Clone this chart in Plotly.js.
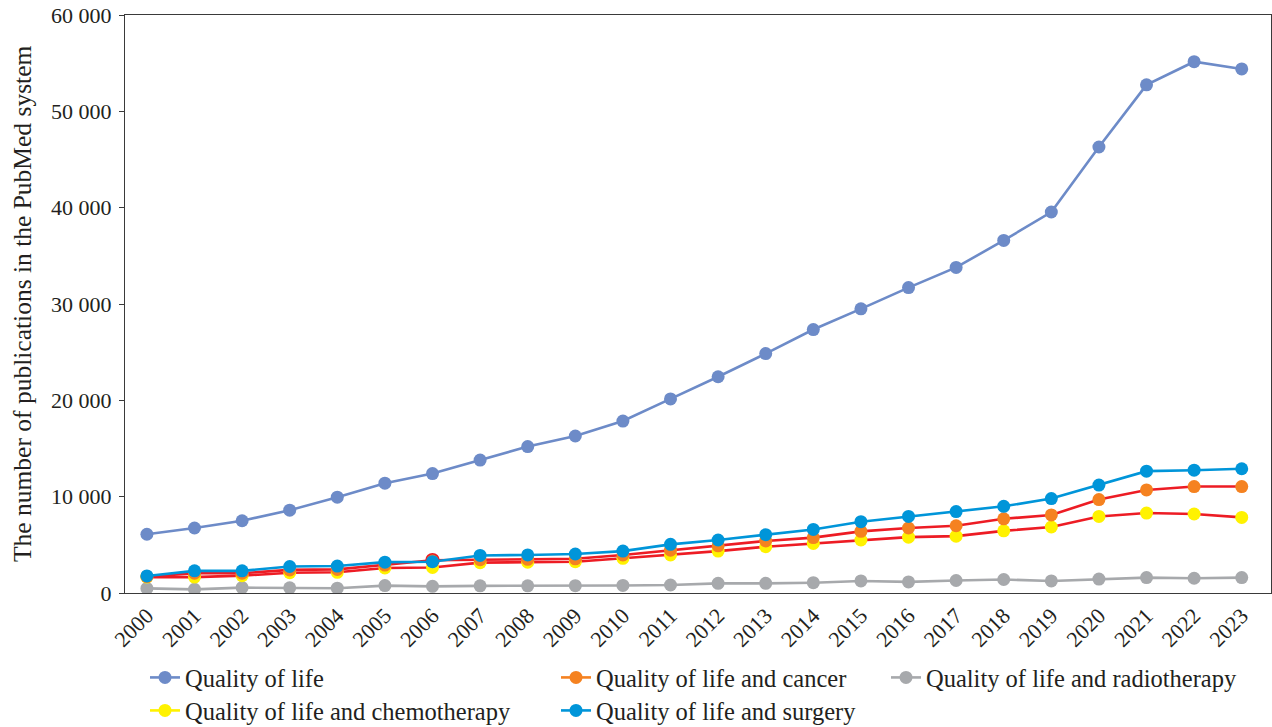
<!DOCTYPE html>
<html>
<head>
<meta charset="utf-8">
<script src="https://cdn.plot.ly/plotly-3.0.1.min.js"></script>
<style>html,body{margin:0;padding:0;background:#fff;}#chart{width:1272px;height:727px;}</style>
</head>
<body>
<div id="chart"></div>
<script>
var years = [2000,2001,2002,2003,2004,2005,2006,2007,2008,2009,2010,2011,2012,2013,2014,2015,2016,2017,2018,2019,2020,2021,2022,2023];
var qualityOfLife = [6100,6750,7500,8600,9950,11400,12400,13800,15200,16300,17850,20150,22450,24850,27350,29500,31700,33800,36600,39550,46300,52750,55150,54400];
var qolCancer = [1700,2050,2050,2400,2450,2900,3400,3450,3500,3550,3950,4450,4900,5400,5750,6400,6750,6980,7700,8100,9700,10700,11050,11050];
var qolChemotherapy = [1650,1650,1800,2100,2150,2600,2650,3150,3200,3250,3600,3950,4350,4800,5150,5500,5800,5900,6450,6850,7950,8300,8200,7850];
var qolRadiotherapy = [480,380,560,540,500,770,690,740,740,760,785,830,1000,1000,1070,1250,1150,1300,1400,1250,1450,1600,1530,1600];
var qolSurgery = [1770,2300,2300,2750,2800,3200,3250,3900,3950,4050,4350,5050,5500,6050,6600,7400,7950,8450,9000,9800,11200,12650,12750,12900];
var seriesNames = ["Quality of life","Quality of life and cancer","Quality of life and radiotherapy","Quality of life and chemotherapy","Quality of life and surgery"];
var yTitle = 'The number of publications in the PubMed system';

var cQoL = '#6d8bc8', cCancer = '#f58220', cChemo = '#fff200', cRadio = '#a7a9ac', cSurg = '#0095d9', cRed = '#ed1c24';
var ms = 13, lw = 2.6;
var ringW = qolCancer.map(function(v,i){ return years[i]===2006 ? 1.5 : 0; });

var traces = [
  {x: years, y: qolRadiotherapy, mode:'lines+markers', line:{color:cRadio,width:lw}, marker:{color:cRadio,size:ms}, showlegend:false},
  {x: years, y: qualityOfLife, mode:'lines+markers', line:{color:cQoL,width:lw}, marker:{color:cQoL,size:ms}, showlegend:false},
  {x: years, y: qolChemotherapy, mode:'lines+markers', line:{color:cRed,width:lw}, marker:{color:cChemo,size:ms}, showlegend:false},
  {x: years, y: qolCancer, mode:'lines+markers', line:{color:cRed,width:lw}, marker:{color:cCancer,size:ms,line:{color:cRed,width:ringW}}, showlegend:false},
  {x: years, y: qolSurgery, mode:'lines+markers', line:{color:cSurg,width:lw}, marker:{color:cSurg,size:ms}, showlegend:false},
  // legend entries
  {x:[null], y:[null], name: seriesNames[0], mode:'lines+markers', line:{color:cQoL,width:lw}, marker:{color:cQoL,size:ms}, legend:'legend'},
  {x:[null], y:[null], name: seriesNames[3], mode:'lines+markers', line:{color:cChemo,width:lw}, marker:{color:cChemo,size:ms}, legend:'legend2'},
  {x:[null], y:[null], name: seriesNames[1], mode:'lines+markers', line:{color:cCancer,width:lw}, marker:{color:cCancer,size:ms}, legend:'legend3'},
  {x:[null], y:[null], name: seriesNames[4], mode:'lines+markers', line:{color:cSurg,width:lw}, marker:{color:cSurg,size:ms}, legend:'legend4'},
  {x:[null], y:[null], name: seriesNames[2], mode:'lines+markers', line:{color:cRadio,width:lw}, marker:{color:cRadio,size:ms}, legend:'legend5'}
];

var fontFam = '"Liberation Serif", "DejaVu Serif", serif';
var txt = '#231f20';
var legendBase = {xref:'container', yref:'container', yanchor:'top', xanchor:'left', orientation:'v', font:{family:fontFam,size:24.5,color:txt}, bgcolor:'rgba(0,0,0,0)', borderwidth:0};
var r1 = 1-655/727, r2 = 1-688/727;

var layout = {
  width:1272, height:727,
  margin:{l:125, r:1, t:15, b:134, autoexpand:false},
  paper_bgcolor:'#fff', plot_bgcolor:'#fff',
  separators:'. ',
  font:{family:fontFam, size:22, color:txt},
  xaxis:{
    type:'linear', range:[1999.54, 2023.615], tickmode:'array', tickvals: years, ticktext: years.map(String),
    tickangle:-45, showgrid:false, zeroline:false, showline:true, linecolor:'#3a3a3a', linewidth:1, mirror:true,
    ticks:'', tickfont:{family:fontFam,size:22,color:txt}, automargin:false
  },
  yaxis:{
    range:[0,60000], tickvals:[0,10000,20000,30000,40000,50000,60000], tickformat:',d',
    showgrid:false, zeroline:false, showline:true, linecolor:'#3a3a3a', linewidth:1, mirror:true,
    ticks:'outside', ticklen:5, tickcolor:'#3a3a3a', ticklabelstandoff:3, tickfont:{family:fontFam,size:22,color:txt}, automargin:false
  },
  annotations:[{
    text: yTitle, textangle:-90, xref:'paper', yref:'paper', x:(22-125)/1146, y:0.5,
    xanchor:'center', yanchor:'middle', showarrow:false, font:{family:fontFam,size:25.5,color:txt}
  }],
  legend: Object.assign({}, legendBase, {x:145/1272, y:r1}),
  legend2: Object.assign({}, legendBase, {x:145/1272, y:r2}),
  legend3: Object.assign({}, legendBase, {x:556/1272, y:r1}),
  legend4: Object.assign({}, legendBase, {x:556/1272, y:r2}),
  legend5: Object.assign({}, legendBase, {x:886/1272, y:r1})
};

Plotly.newPlot('chart', traces, layout, {displayModeBar:false, staticPlot:true});
</script>
</body>
</html>
